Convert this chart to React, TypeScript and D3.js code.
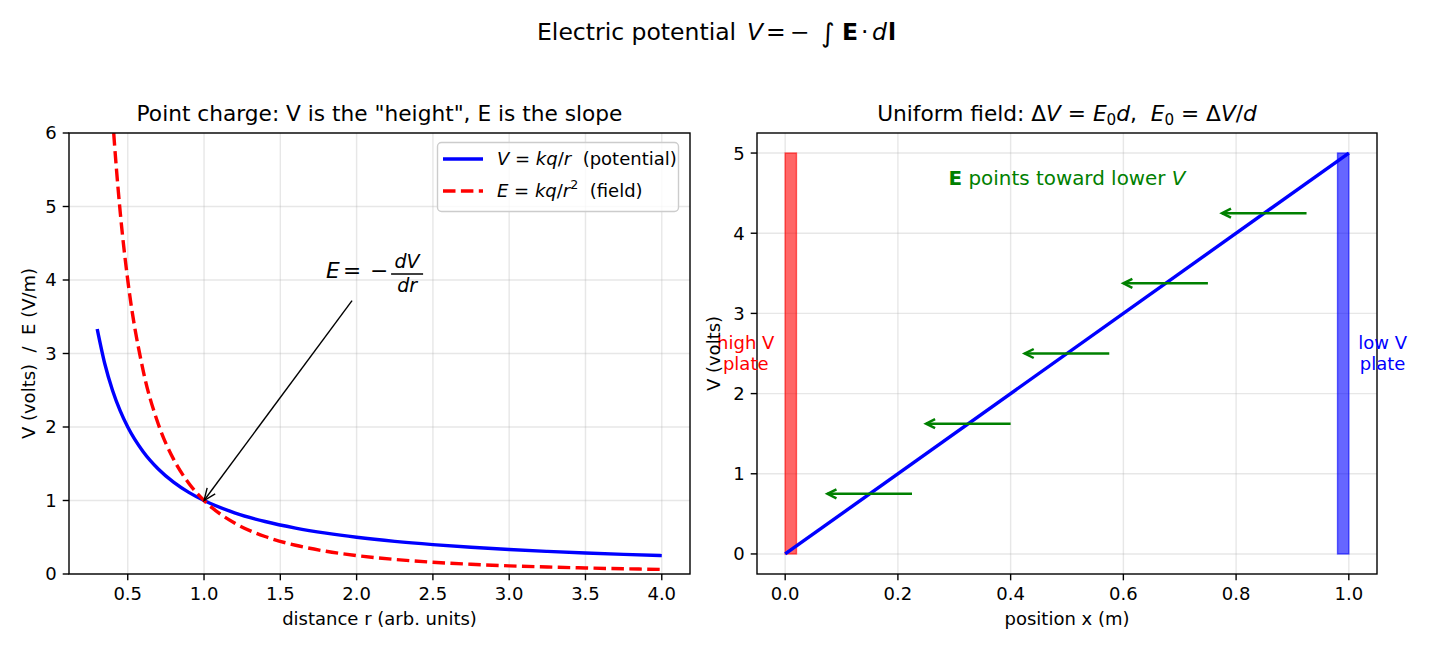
import * as d3 from 'd3'

const W = 1430
const H = 650
const FONT = '"DejaVu Sans", sans-serif'

// distance samples with potential V = kq/r and field E = kq/r^2 (kq = 1)
const rVals = [0.3, 0.35, 0.4, 0.45, 0.5, 0.6, 0.7, 0.8, 0.9, 1.0, 1.2, 1.4, 1.6, 1.8, 2.0, 2.25, 2.5, 2.75, 3.0, 3.25, 3.5, 3.75, 4.0]
const potVals = [3.333, 2.857, 2.5, 2.222, 2.0, 1.667, 1.429, 1.25, 1.111, 1.0, 0.833, 0.714, 0.625, 0.556, 0.5, 0.444, 0.4, 0.364, 0.333, 0.308, 0.286, 0.267, 0.25]
const fieldVals = [11.11, 8.163, 6.25, 4.938, 4.0, 2.778, 2.041, 1.563, 1.235, 1.0, 0.694, 0.51, 0.391, 0.309, 0.25, 0.198, 0.16, 0.132, 0.111, 0.095, 0.082, 0.071, 0.0625]

const leftXTicks = [0.5, 1.0, 1.5, 2.0, 2.5, 3.0, 3.5, 4.0]
const leftYTicks = [0, 1, 2, 3, 4, 5, 6]
const rightXTicks = [0, 0.2, 0.4, 0.6, 0.8, 1.0]
const rightYTicks = [0, 1, 2, 3, 4, 5]

// annotation: text anchor, arrow tail and the point it marks
const annText = [1.8, 4.0]
const annTail = [1.97, 3.72]
const annPoint = [1.0, 1.0]

// uniform field panel
const lineX = [0, 1]
const lineV = [0, 5]
const plateX = [0, 0.98]
const plateWidth = 0.02
const plateTop = 5
const plateColors = ['#ff0000', '#0000ff']
const plateLabelX = [-0.07, 1.06]
const plateLabelY = 2.5
const plateLabels = [['high V', 'plate'], ['low V', 'plate']]
const arrowMid = [0.15, 0.325, 0.5, 0.675, 0.85]
const arrowV = [0.75, 1.625, 2.5, 3.375, 4.25]
const arrowHalf = 0.075
const noteX = 0.5
const noteV = 4.6

const L = { x0: 69, x1: 690, y0: 133, y1: 574 }
const R = { x0: 757, x1: 1377, y0: 133, y1: 574 }

const xL = d3.scaleLinear().domain([0.115, 4.185]).range([L.x0, L.x1])
const yL = d3.scaleLinear().domain([0, 6]).range([L.y1, L.y0])
const xR = d3.scaleLinear().domain([-0.05, 1.05]).range([R.x0, R.x1])
const yR = d3.scaleLinear().domain([-0.25, 5.25]).range([R.y1, R.y0])

const GRID = 'rgba(176,176,176,0.3)'
const TICK_FS = 18
const TICK_LEN = 6.3
const LW = 3.4
const DASH = '12.5,5.4'

function arrowHead(x1: number, y1: number, x2: number, y2: number, len: number, half: number) {
  const dx = x2 - x1
  const dy = y2 - y1
  const d = Math.hypot(dx, dy)
  const ux = dx / d
  const uy = dy / d
  const bx = x2 - ux * len
  const by = y2 - uy * len
  return `M${bx - uy * half},${by + ux * half}L${x2},${y2}L${bx + uy * half},${by - ux * half}`
}

function Grid({ box, xs, ys, xTicks, yTicks }: any) {
  return (
    <g>
      {xTicks.map((t: number) => (
        <line key={'gx' + t} x1={xs(t)} x2={xs(t)} y1={box.y0} y2={box.y1} stroke={GRID} strokeWidth={1.4} />
      ))}
      {yTicks.map((t: number) => (
        <line key={'gy' + t} x1={box.x0} x2={box.x1} y1={ys(t)} y2={ys(t)} stroke={GRID} strokeWidth={1.4} />
      ))}
    </g>
  )
}

function Frame({ box, xs, ys, xTicks, yTicks, xFmt, yFmt }: any) {
  return (
    <g fontFamily={FONT} fontSize={TICK_FS} fill="#000">
      <rect x={box.x0} y={box.y0} width={box.x1 - box.x0} height={box.y1 - box.y0} fill="none" stroke="#000" strokeWidth={1.4} />
      {xTicks.map((t: number) => (
        <g key={'tx' + t}>
          <line x1={xs(t)} x2={xs(t)} y1={box.y1} y2={box.y1 + TICK_LEN} stroke="#000" strokeWidth={1.4} />
          <text x={xs(t)} y={box.y1 + 26} textAnchor="middle">{xFmt(t)}</text>
        </g>
      ))}
      {yTicks.map((t: number) => (
        <g key={'ty' + t}>
          <line x1={box.x0 - TICK_LEN} x2={box.x0} y1={ys(t)} y2={ys(t)} stroke="#000" strokeWidth={1.4} />
          <text x={box.x0 - 12.3} y={ys(t)} dy="0.36em" textAnchor="end">{yFmt(t)}</text>
        </g>
      ))}
    </g>
  )
}

export default function App() {
  const curve = d3.line<number>()
    .x((_, i) => xL(rVals[i]))
    .y(d => yL(d))
    .curve(d3.curveMonotoneX)

  const uLine = d3.line<number>()
    .x((_, i) => xR(lineX[i]))
    .y(d => yR(d))

  const it = { fontStyle: 'italic' } as const
  const pre = { whiteSpace: 'pre' } as const

  const ax = xL(annText[0])
  const ay = yL(annText[1]) - 2
  const tx = xL(annTail[0])
  const ty = yL(annTail[1])
  const px = xL(annPoint[0])
  const py = yL(annPoint[1])

  return (
    <svg width={W} height={H} style={{ position: 'absolute', left: 0, top: 0, background: '#fff' }} fontFamily={FONT}>
      <defs>
        <clipPath id="clipL">
          <rect x={L.x0} y={L.y0} width={L.x1 - L.x0} height={L.y1 - L.y0} />
        </clipPath>
        <clipPath id="clipR">
          <rect x={R.x0} y={R.y0} width={R.x1 - R.x0} height={R.y1 - R.y0} />
        </clipPath>
      </defs>

      {/* figure title, math part laid out piece by piece */}
      <g fontSize={23.5}>
        <text x={537} y={40}>Electric potential</text>
        <text x={747} y={40} style={it}>V</text>
        <text x={766} y={40}>=</text>
        <text x={790} y={40}>−</text>
        <text x={821} y={42} fontSize={26}>∫</text>
        <text x={842} y={40} fontWeight="bold">E</text>
        <text x={861} y={40}>·</text>
        <text x={872} y={40} style={it}>d</text>
        <text x={888} y={40} fontWeight="bold">l</text>
      </g>

      {/* ---------- left panel: point charge ---------- */}
      <Grid box={L} xs={xL} ys={yL} xTicks={leftXTicks} yTicks={leftYTicks} />
      <g clipPath="url(#clipL)">
        <path d={curve(potVals) ?? ''} fill="none" stroke="#0000ff" strokeWidth={LW} />
        <path d={curve(fieldVals) ?? ''} fill="none" stroke="#ff0000" strokeWidth={LW} strokeDasharray={DASH} />
      </g>
      <Frame box={L} xs={xL} ys={yL} xTicks={leftXTicks} yTicks={leftYTicks}
        xFmt={(t: number) => t.toFixed(1)} yFmt={(t: number) => String(t)} />

      <text x={(L.x0 + L.x1) / 2} y={121} textAnchor="middle" fontSize={21.7}>
        Point charge: V is the "height", E is the slope
      </text>
      <text x={(L.x0 + L.x1) / 2} y={625} textAnchor="middle" fontSize={18}>distance r (arb. units)</text>
      <text transform={`translate(35,${(L.y0 + L.y1) / 2}) rotate(-90)`} textAnchor="middle" fontSize={18} style={pre}>
        V (volts)  /  E (V/m)
      </text>

      {/* E = -dV/dr annotation */}
      <line x1={tx} y1={ty} x2={px} y2={py} stroke="#000" strokeWidth={1.4} />
      <path d={arrowHead(tx, ty, px, py, 12, 5)} fill="none" stroke="#000" strokeWidth={1.4} />
      <g fontSize={21.7}>
        <text x={ax} y={ay} style={it}>E</text>
        <text x={ax + 17} y={ay}>=</text>
        <text x={ax + 44} y={ay}>−</text>
      </g>
      <text x={ax + 81} y={ay - 10} textAnchor="middle" fontSize={19} style={it}>dV</text>
      <line x1={ax + 65} x2={ax + 97} y1={ay - 4} y2={ay - 4} stroke="#000" strokeWidth={1.3} />
      <text x={ax + 81} y={ay + 14} textAnchor="middle" fontSize={19} style={it}>dr</text>

      {/* legend */}
      <g>
        <rect x={437.5} y={142.5} width={241} height={69} rx={4} fill="rgba(255,255,255,0.8)" stroke="#cccccc" strokeWidth={1.4} />
        <line x1={443} x2={483} y1={159} y2={159} stroke="#0000ff" strokeWidth={LW} />
        <text x={497} y={165} fontSize={18} style={pre}>
          <tspan style={it}>V</tspan>
          <tspan> = </tspan>
          <tspan style={it}>kq</tspan>
          <tspan>/</tspan>
          <tspan style={it}>r</tspan>
          <tspan>  (potential)</tspan>
        </text>
        <line x1={443} x2={483} y1={191} y2={191} stroke="#ff0000" strokeWidth={LW} strokeDasharray={DASH} />
        <text x={497} y={197} fontSize={18} style={pre}>
          <tspan style={it}>E</tspan>
          <tspan> = </tspan>
          <tspan style={it}>kq</tspan>
          <tspan>/</tspan>
          <tspan style={it}>r</tspan>
          <tspan fontSize={12.6} dy={-8}>2</tspan>
          <tspan dy={8}>  (field)</tspan>
        </text>
      </g>

      {/* ---------- right panel: uniform field ---------- */}
      <Grid box={R} xs={xR} ys={yR} xTicks={rightXTicks} yTicks={rightYTicks} />
      <g clipPath="url(#clipR)">
        {plateX.map((x, i) => (
          <rect key={'pl' + i} x={xR(x)} y={yR(plateTop)} width={xR(x + plateWidth) - xR(x)} height={yR(0) - yR(plateTop)}
            fill={plateColors[i]} fillOpacity={0.6} stroke={plateColors[i]} strokeOpacity={0.6} strokeWidth={1.4} />
        ))}
        <path d={uLine(lineV) ?? ''} fill="none" stroke="#0000ff" strokeWidth={LW} />
        {arrowMid.map((m, i) => {
          const x1 = xR(m + arrowHalf)
          const x2 = xR(m - arrowHalf)
          const y = yR(arrowV[i])
          return (
            <g key={'ar' + i} stroke="#008000" strokeWidth={2.5} fill="none">
              <line x1={x1} x2={x2} y1={y} y2={y} />
              <path d={arrowHead(x1, y, x2, y, 9, 4.5)} />
            </g>
          )
        })}
      </g>
      <Frame box={R} xs={xR} ys={yR} xTicks={rightXTicks} yTicks={rightYTicks}
        xFmt={(t: number) => t.toFixed(1)} yFmt={(t: number) => String(t)} />

      <text x={xR(noteX)} y={yR(noteV)} textAnchor="middle" fontSize={19.9} fill="#008000" style={pre}>
        <tspan fontWeight="bold">E</tspan>
        <tspan> points toward lower </tspan>
        <tspan style={it}>V</tspan>
      </text>

      {plateLabels.map((lines, i) => (
        <text key={'plt' + i} x={xR(plateLabelX[i])} textAnchor="middle" fontSize={18} fill={plateColors[i]}>
          {lines.map((s, j) => (
            <tspan key={j} x={xR(plateLabelX[i])} y={yR(plateLabelY) + (j - 0.5) * 21} dy="0.36em">{s}</tspan>
          ))}
        </text>
      ))}

      <text x={(R.x0 + R.x1) / 2} y={121} textAnchor="middle" fontSize={21.7} style={pre}>
        <tspan>Uniform field: Δ</tspan>
        <tspan style={it}>V</tspan>
        <tspan> = </tspan>
        <tspan style={it}>E</tspan>
        <tspan fontSize={15.2} dy={4}>0</tspan>
        <tspan style={it} dy={-4}>d</tspan>
        <tspan>,  </tspan>
        <tspan style={it}>E</tspan>
        <tspan fontSize={15.2} dy={4}>0</tspan>
        <tspan dy={-4}> = Δ</tspan>
        <tspan style={it}>V</tspan>
        <tspan>/</tspan>
        <tspan style={it}>d</tspan>
      </text>
      <text x={(R.x0 + R.x1) / 2} y={625} textAnchor="middle" fontSize={18}>position x (m)</text>
      <text transform={`translate(720,${(R.y0 + R.y1) / 2}) rotate(-90)`} textAnchor="middle" fontSize={18}>
        V (volts)
      </text>
    </svg>
  )
}
